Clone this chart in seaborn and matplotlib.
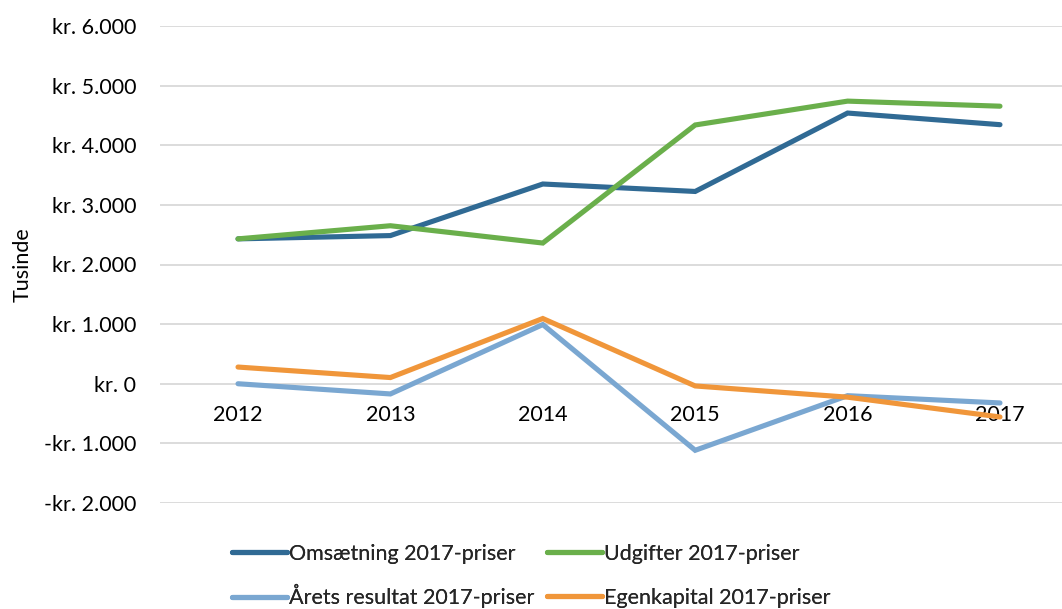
import matplotlib
matplotlib.use("Agg")
import matplotlib.pyplot as plt
import seaborn as sns
import pandas as pd
from matplotlib.ticker import FuncFormatter
from matplotlib.lines import Line2D

years = ["2012", "2013", "2014", "2015", "2016", "2017"]
omsaetning = [2430, 2485, 3350, 3225, 4540, 4345]
udgifter = [2430, 2650, 2360, 4340, 4740, 4655]
aarets_resultat = [0, -171, 993, -1116, -200, -322]
egenkapital = [280, 104, 1094, -37, -225, -557]

series_names = ["Omsætning 2017-priser", "Udgifter 2017-priser",
                "Årets resultat 2017-priser", "Egenkapital 2017-priser"]
series_values = [omsaetning, udgifter, aarets_resultat, egenkapital]
colors = ["#306A94", "#6AAF4B", "#7AA7D1", "#F0963A"]

rows = []
for name, vals in zip(series_names, series_values):
    for i, (y, v) in enumerate(zip(years, vals)):
        rows.append({"idx": i, "year": y, "value": v, "series": name})
df = pd.DataFrame(rows)

sns.set_theme(style="white")
plt.rcParams["font.family"] = ["Lato", "DejaVu Sans"]
FS = 15.5

fig = plt.figure(figsize=(10.62, 6.09), dpi=100)
ax = fig.add_axes([160 / 1062, 106 / 609, 902 / 1062, 477 / 609])

sns.lineplot(data=df, x="idx", y="value", hue="series", hue_order=series_names,
             palette=colors, linewidth=3.7, ax=ax, legend=False, sort=False)
for line in ax.get_lines():
    line.set_solid_capstyle("round")
    line.set_solid_joinstyle("miter")
    line.set_clip_on(False)

ax.set_xlim(-0.512, 5.407)
ax.set_ylim(-2000, 6000)
ax.set_yticks(range(-2000, 6001, 1000))

def fmt(v, pos):
    v = int(round(v))
    if v == 0:
        return "kr. 0"
    s = f"{abs(v):,}".replace(",", ".")
    return ("-" if v < 0 else "") + "kr. " + s

ax.yaxis.set_major_formatter(FuncFormatter(fmt))
ax.yaxis.grid(True, color="#D9D9D9", linewidth=1.3)
ax.set_axisbelow(True)
for s in ["top", "right", "left"]:
    ax.spines[s].set_visible(False)
ax.spines["bottom"].set_position(("data", 0))
ax.spines["bottom"].set_visible(False)
ax.set_xticks(range(len(years)))
ax.set_xticklabels(years)
ax.tick_params(axis="x", length=0, pad=15, labelsize=FS, labelcolor="#000000")
ax.tick_params(axis="y", length=0, pad=17, labelsize=FS, labelcolor="#000000")
ax.set_xlabel("")
ax.set_ylabel("Tusinde", fontsize=FS, color="#000000")
ax.yaxis.set_label_coords(-127 / 902, 0.5)

# legend: 2x2 grid, one legend per entry so rows and columns line up
legend_pos = [(232, 554), (547, 554), (232, 596), (547, 598)]
for name, c, (px, py) in zip(series_names, colors, legend_pos):
    h = Line2D([0], [0], color=c, linewidth=3.7, solid_capstyle="round")
    leg = fig.legend([h], [name], loc="center left",
                     bbox_to_anchor=(px / 1062, 1 - py / 609),
                     frameon=False, fontsize=FS, handlelength=2.55, handletextpad=0.12,
                     borderpad=0, borderaxespad=0)
    fig.add_artist(leg)

fig.savefig("out.png", dpi=100)
